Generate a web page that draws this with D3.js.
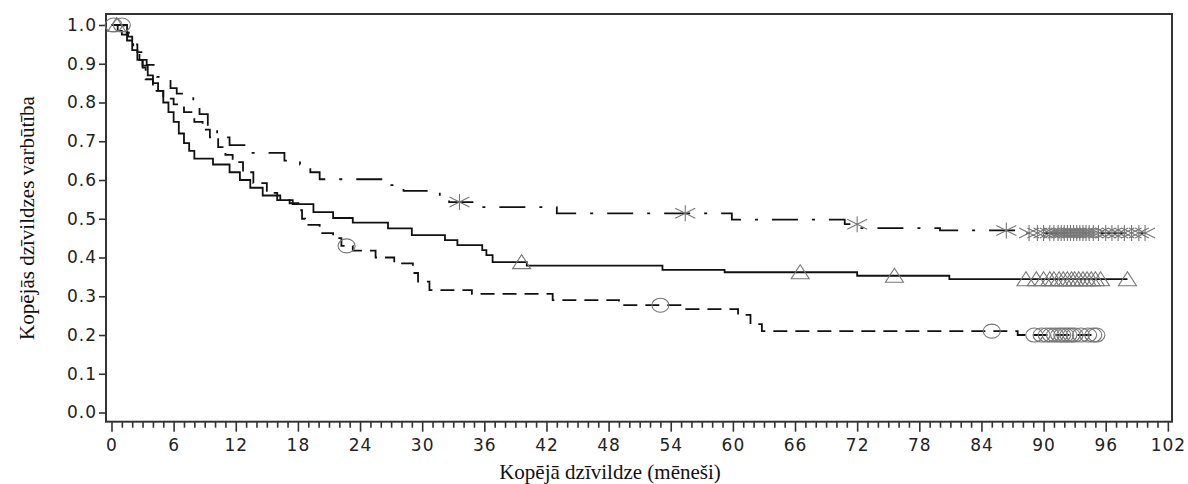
<!DOCTYPE html>
<html>
<head>
<meta charset="utf-8">
<script src="https://cdn.jsdelivr.net/npm/d3@7"></script>
<style>
  html, body { margin: 0; padding: 0; background: #fff; }
  svg { display: block; }
</style>
</head>
<body>
<svg id="chart" width="1188" height="484"></svg>
<script>
// ---------- DATA ----------
const xTickValues = [0, 6, 12, 18, 24, 30, 36, 42, 48, 54, 60, 66, 72, 78, 84, 90, 96, 102];
const yTickValues = [0.0, 0.1, 0.2, 0.3, 0.4, 0.5, 0.6, 0.7, 0.8, 0.9, 1.0];
const xAxisLabel = "Kopējā dzīvildze (mēneši)";
const yAxisLabel = "Kopējās dzīvildzes varbūtība";

// Group A (solid line, triangles)
const eventTimesA = [0.6, 1.0, 1.5, 2.0, 2.5, 3.0, 3.5, 4.0, 4.5, 5.0, 5.5, 6.0, 6.5, 7.0, 7.5, 8.0, 9.8, 11.4, 12.4, 13.4, 14.6, 16.3, 17.5, 19.5, 21.4, 23.3, 26.7, 29.0, 32.2, 33.4, 35.8, 36.2, 36.8, 40.1, 53.2, 59.2, 72.0, 80.9];
const survA      = [0.985, 0.975, 0.96, 0.935, 0.91, 0.895, 0.87, 0.85, 0.83, 0.80, 0.775, 0.75, 0.72, 0.695, 0.675, 0.655, 0.64, 0.62, 0.60, 0.58, 0.56, 0.548, 0.538, 0.517, 0.502, 0.49, 0.475, 0.458, 0.445, 0.432, 0.419, 0.406, 0.388, 0.379, 0.368, 0.362, 0.353, 0.344];
const censorA    = [0.5, 39.6, 66.5, 75.6, 88.3, 89.3, 90.0, 90.6, 91.0, 91.5, 91.9, 92.3, 92.7, 93.0, 93.4, 93.8, 94.2, 94.6, 95.0, 95.5, 98.1];

// Group B (dashed line, circles)
const eventTimesB = [1.2, 1.6, 2.0, 2.5, 3.0, 3.3, 4.0, 5.0, 6.0, 7.0, 8.0, 8.8, 9.5, 10.3, 11.0, 11.7, 12.7, 13.7, 15.0, 16.0, 17.2, 18.2, 18.4, 18.7, 20.1, 21.4, 22.2, 23.3, 25.5, 27.3, 29.1, 29.6, 30.7, 34.8, 42.6, 49.0, 55.5, 60.5, 61.7, 62.8, 87.5];
const survB      = [0.98, 0.97, 0.95, 0.93, 0.89, 0.86, 0.83, 0.81, 0.795, 0.775, 0.75, 0.73, 0.71, 0.685, 0.665, 0.646, 0.62, 0.592, 0.567, 0.548, 0.54, 0.522, 0.50, 0.484, 0.463, 0.45, 0.43, 0.418, 0.40, 0.385, 0.36, 0.338, 0.316, 0.306, 0.29, 0.277, 0.267, 0.252, 0.228, 0.21, 0.20];
const censorB    = [0.2, 1.0, 22.7, 53.0, 85.0, 89.1, 89.8, 90.3, 90.7, 91.1, 91.5, 91.8, 92.1, 92.4, 92.7, 93.0, 93.6, 94.3, 94.8, 95.1];

// Group C (dash-dot line, asterisks)
const eventTimesC = [1.5, 2.1, 2.7, 3.4, 4.4, 5.7, 6.3, 7.9, 8.5, 9.3, 10.2, 11.4, 13.2, 16.7, 18.2, 19.2, 20.1, 26.6, 28.2, 31.7, 32.6, 35.9, 43.0, 59.9, 70.8, 72.3, 80.0, 87.5];
const survC      = [0.98, 0.935, 0.91, 0.897, 0.866, 0.837, 0.823, 0.79, 0.77, 0.74, 0.71, 0.69, 0.67, 0.65, 0.64, 0.62, 0.602, 0.587, 0.572, 0.556, 0.543, 0.53, 0.514, 0.498, 0.486, 0.476, 0.47, 0.463];
const censorC    = [33.6, 55.4, 72.0, 86.4, 88.6, 89.4, 90.0, 90.6, 91.0, 91.4, 91.7, 92.0, 92.3, 92.6, 92.9, 93.2, 93.5, 93.8, 94.1, 94.4, 94.8, 95.3, 96.0, 96.6, 97.2, 97.8, 98.5, 99.2, 99.8];

// ---------- LAYOUT ----------
const svg = d3.select("#chart");
const plot = { left: 106, top: 14, right: 1172, bottom: 421.7 };

const x = d3.scaleLinear().domain([-0.53, 102.4]).range([plot.left, plot.right]);
const y = d3.scaleLinear().domain([-0.0237, 1.0284]).range([plot.bottom, plot.top]);

const tickFont = "'DejaVu Sans', Verdana, sans-serif";
const labelFont = "'Liberation Serif', 'Times New Roman', serif";

// Axes
const xAxis = d3.axisBottom(x).tickValues(xTickValues).tickSize(10).tickPadding(7).tickFormat(d3.format("d"));
const xMinor = d3.axisBottom(x).tickValues(d3.range(0, 103, 1).filter(v => v % 6 !== 0)).tickSize(6).tickFormat("");
const yAxis = d3.axisLeft(y).tickValues(yTickValues).tickSize(7).tickPadding(2).tickFormat(d3.format(".1f"));

const gx = svg.append("g").attr("transform", `translate(0,${plot.bottom})`).call(xAxis);
const gxm = svg.append("g").attr("transform", `translate(0,${plot.bottom})`).call(xMinor);
const gy = svg.append("g").attr("transform", `translate(${plot.left},0)`).call(yAxis);

[gx, gxm, gy].forEach(g => {
  g.select(".domain").remove();
  g.selectAll(".tick line").attr("stroke", "#333").attr("stroke-width", 1.6);
  g.selectAll(".tick text").attr("fill", "#222")
    .style("font-family", tickFont).style("font-size", "17px").style("letter-spacing", "1px");
});

// Frame
svg.append("rect")
  .attr("x", plot.left).attr("y", plot.top)
  .attr("width", plot.right - plot.left).attr("height", plot.bottom - plot.top)
  .attr("fill", "none").attr("stroke", "#333").attr("stroke-width", 2);

// Axis labels
svg.append("text")
  .attr("x", 610).attr("y", 479)
  .attr("text-anchor", "middle")
  .style("font-family", labelFont).style("font-size", "21px").attr("fill", "#111")
  .text(xAxisLabel);

svg.append("text")
  .attr("transform", "translate(34,218) rotate(-90)")
  .attr("text-anchor", "middle")
  .style("font-family", labelFont).style("font-size", "21px").attr("fill", "#111")
  .text(yAxisLabel);

// ---------- CURVES ----------
function surv(times, vals, t) {
  let s = 1;
  for (let i = 0; i < times.length; i++) { if (times[i] <= t) s = vals[i]; }
  return s;
}

const groups = [
  { times: eventTimesA, vals: survA, cens: censorA, dash: null, marker: "triangle" },
  { times: eventTimesB, vals: survB, cens: censorB, dash: "14,8", marker: "circle" },
  { times: eventTimesC, vals: survC, cens: censorC, dash: "26,14,3,14", marker: "star" }
];

const line = d3.line().x(d => x(d[0])).y(d => y(d[1])).curve(d3.curveStepAfter);

groups.forEach(g => {
  const tEnd = d3.max(g.cens);
  const pts = [[0, 1]].concat(g.times.map((t, i) => [t, g.vals[i]]));
  pts.push([tEnd, g.vals[g.vals.length - 1]]);
  svg.append("path")
    .datum(pts)
    .attr("d", line)
    .attr("fill", "none")
    .attr("stroke", "#111")
    .attr("stroke-width", 1.8)
    .attr("stroke-dasharray", g.dash);
});

// Markers
const mColor = "#777";
groups.forEach(g => {
  const mg = svg.append("g").attr("fill", "none").attr("stroke", mColor).attr("stroke-width", 1.1);
  g.cens.forEach(t => {
    const cx = x(t), cy = y(surv(g.times, g.vals, t));
    if (g.marker === "triangle") {
      mg.append("path").attr("d", `M${cx},${cy - 7.5}L${cx + 9},${cy + 6.5}L${cx - 9},${cy + 6.5}Z`);
    } else if (g.marker === "circle") {
      mg.append("ellipse").attr("cx", cx).attr("cy", cy).attr("rx", 8.5).attr("ry", 7);
    } else {
      mg.append("path").attr("d",
        `M${cx},${cy - 8}L${cx},${cy + 8}` +
        `M${cx - 10},${cy - 5}L${cx + 10},${cy + 5}` +
        `M${cx - 10},${cy + 5}L${cx + 10},${cy - 5}`);
    }
  });
});
</script>
</body>
</html>
